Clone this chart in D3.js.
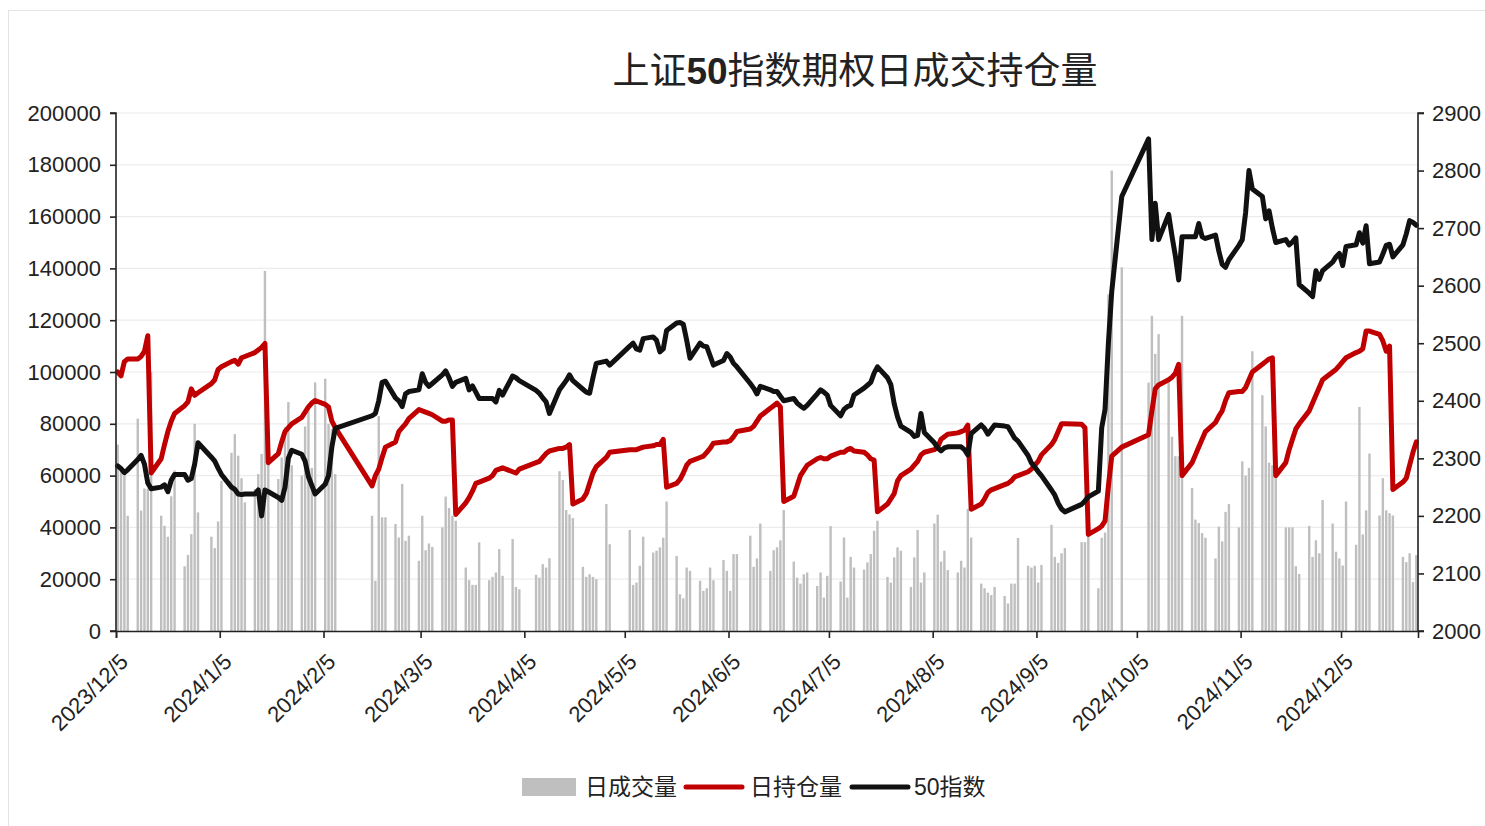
<!DOCTYPE html>
<html>
<head>
<meta charset="utf-8">
<script src="https://cdn.jsdelivr.net/npm/d3@7"></script>
<style>
  body { margin: 0; background: #fff; }
  text { font-family: "Liberation Sans", "Noto Sans CJK SC", sans-serif; }
  .cjk { font-family: "Noto Sans CJK SC", sans-serif; }
</style>
</head>
<body>
<div id="chart"></div>
<script>
// trading days per month (categories)
const tradeDays = [
  ["2023-12", [5,6,7,8,11,12,13,14,15,18,19,20,21,22,25,26,27,28,29]],
  ["2024-01", [2,3,4,5,8,9,10,11,12,15,16,17,18,19,22,23,24,25,26,29,30,31]],
  ["2024-02", [1,2,5,6,7,8,19,20,21,22,23,26,27,28,29]],
  ["2024-03", [1,4,5,6,7,8,11,12,13,14,15,18,19,20,21,22,25,26,27,28,29]],
  ["2024-04", [1,2,3,8,9,10,11,12,15,16,17,18,19,22,23,24,25,26,29,30]],
  ["2024-05", [6,7,8,9,10,13,14,15,16,17,20,21,22,23,24,27,28,29,30,31]],
  ["2024-06", [3,4,5,6,7,11,12,13,14,17,18,19,20,21,24,25,26,27,28]],
  ["2024-07", [1,2,3,4,5,8,9,10,11,12,15,16,17,18,19,22,23,24,25,26,29,30,31]],
  ["2024-08", [1,2,5,6,7,8,9,12,13,14,15,16,19,20,21,22,23,26,27,28,29,30]],
  ["2024-09", [2,3,4,5,6,9,10,11,12,13,18,19,20,23,24,25,26,27,30]],
  ["2024-10", [8,9,10,11,14,15,16,17,18,21,22,23,24,25,28,29,30,31]],
  ["2024-11", [1,4,5,6,7,8,11,12,13,14,15,18,19,20,21,22,25,26,27,28,29]],
  ["2024-12", [2,3,4,5,6,9,10,11,12,13,16,17,18,19,20,23,24,25,26,27]]
];

// 日成交量
const volume = [
  72000,62000,60000,44500, 82000,46500,55000,55000,100000, 44500,40600,36400,52000,62000, 25000,29400,37400,80000,45800,
  36400,32000,42300,58000, 68800,76000,67700,59000,49700, 54800,60600,68400,139000,67700, 58700,67000,78700,88400,64000, 60000,79000,85000,
  63000,96000, 97400,80000,78000,60600, 44500,19400,83000,43900,43900, 41300,36100,56800,34800,
  36800, 27100,44500,31200,33800,32500, 40000,51900,47500,44500,42600, 24500,19600,17800,17800,34200, 19600,20900,22600,31600,21300,
  35500,17000,16100, 21700,20600,25800,24500,28100, 61700,58300,46700,45000,43600, 24800,20900,21900,20900,20000, 49000,33500,
  39000,17800,18700,25200,36400, 30300,31000,32300,36000,50000, 29000,14200,12600,24500,23200, 19400,15500,16500,24500,19600,
  27400,23200,15500,29700,29700, 36800,24800,28000,41500, 23200,31200,32300,35000,46700, 26800,20600,18300,21900,22600,
  17400,22600,12900,21300,40500, 19100,36100,12900,28600,24500, 23700,26500,29700,38700,42600, 20900,18700,28400,32300,31000, 17000,28400,39000,
  18700,22600, 41500,44900,26800,31000,23500, 22600,27100,24500,47100,36100, 18300,16500,14800,13900,17000, 13500,10600,18300,18300,35900,
  25200,24500,25200,18700,25500, 41000,28600,26300,30000,32000, 34300,34300,38000, 16500,36000,38000,130000,177800, 140400,
  95900,121700,107000,114600, 95900,75000,67500,67500,121700, 55200,43000,41700,37800,36000, 28000,40300,34600,46000,
  49000, 40000,65500,60000,63000,108000, 91000,79000,65000,64000,65000, 40000,40000,40000,25000,22000, 40600,28600,35000,30000,50600,
  41500,30600,28000,25300,50000, 33300,86500,37300,46600,68500, 44600,59000,46600,45500,44600, 28600,26600,30000,18900,29300
];

// 日持仓量
const openInt = [
  100000,98500,104000,105000, 105000,106000,108000,114000,61000, 66500,72000,77000,81000,84000, 87000,88500,93500,91000,92000,
  95500,97000,101000,102000, 104000,104500,103000,105500,106000, 107500,108500,109500,111000,65000, 68500,73000,77000,78500,80000, 82500,84500,86500,
  88000,89000, 87500,86500,81000,78500, 56000,60000,62500,67000,71000, 73000,77000,78500,80000,
  82000, 85500,85000,84500,84000,83500, 81000,81000,81500,81500,45000, 49500,51500,54000,57000,57500, 59000,60000,62000,62500,63000,
  61500,61000,62500, 65000,65500,67000,68500,69500, 70500,70500,71000,72000,49000, 51000,53000,57000,61000,63500, 67000,69000,
  70000,70000,70000,70500,71000, 71500,72000,72000,74000,55500, 57000,58500,61000,64000,65500, 67000,67500,69000,70500,72500,
  73000,73000,73500,75000,77000, 78000,79000,81000,83000, 86000,87000,88000,86500,50000, 52000,56000,60000,62000,64000,
  66500,67000,66500,66500,67500, 69000,69000,70000,70500,69500, 69000,68000,66500,66000,46000, 49000,51000,53000,58000,60000, 62500,64000,65500,
  68000,69000, 70000,71000,74000,75000,76000, 76500,77000,77500,79500,47000, 49000,51000,53500,54500,55000, 56500,57000,58000,59500,60000,
  61500,62500,64000,65500,68000, 72000,74000,77000,80000,80000, 79800,78500,37300, 39500,40500,42500,56000,67500, 71000,
  75800,85000,93500,95000, 97000,98000,99500,103000,60000, 65000,68000,71000,74000,77000, 80500,83000,85000,89000,
  92000, 92500,92500,94000,97000,100000, 103000,104000,105000,105500,60000, 65000,70000,74000,78000,80000, 85000,88000,91000,94000,97000,
  100000,101000,102500,104000,105500, 107500,108000,109000,115800,115800, 114500,112000,108000,110000,54600, 57500,59000,64000,69000,73000
];

// 50指数
const index50 = [
  2287,2282,2275,2280, 2298,2305,2290,2257,2247, 2250,2254,2242,2262,2272, 2272,2262,2265,2290,2327,
  2302,2295,2283,2272, 2250,2246,2238,2237,2238, 2238,2245,2200,2245,2242, 2232,2227,2250,2300,2314, 2307,2295,2268,
  2253,2238, 2255,2270,2320,2352, 2374,2378,2400,2432,2434, 2405,2400,2390,2412,
  2416, 2419,2447,2432,2425,2430, 2445,2452,2440,2425,2432, 2439,2419,2426,2415,2404, 2404,2404,2398,2418,2410,
  2443,2440,2435, 2418,2413,2405,2398,2378, 2419,2427,2435,2445,2435, 2420,2415,2413,2440,2465, 2469,2462,
  2495,2500,2490,2488,2508, 2511,2505,2485,2490,2522, 2535,2536,2533,2505,2474, 2500,2495,2494,2478,2462,
  2470,2482,2476,2465,2459, 2430,2422,2412,2425, 2419,2416,2416,2408,2400, 2404,2396,2391,2387,2392,
  2412,2419,2415,2410,2392, 2374,2385,2390,2392,2410, 2422,2427,2432,2448,2459, 2440,2428,2395,2372,2356, 2345,2338,2340,
  2378,2345, 2327,2318,2313,2318,2320, 2320,2320,2315,2306,2343, 2358,2352,2342,2350,2358, 2356,2355,2345,2335,2330,
  2305,2292,2285,2277,2270, 2245,2236,2222,2212,2207, 2220,2226,2233, 2243,2353,2385,2500,2590, 2755,
  2855,2680,2743,2680, 2724,2686,2652,2610,2685, 2685,2685,2708,2685,2682, 2688,2660,2637,2632,
  2645, 2670,2680,2727,2800,2768, 2755,2716,2730,2700,2675, 2680,2671,2676,2683,2602, 2587,2581,2626,2611,2626,
  2641,2650,2656,2635,2668, 2671,2692,2674,2704,2638, 2641,2655,2670,2672,2650, 2671,2690,2713,2710,2705
];

const xTickLabels = ["2023/12/5","2024/1/5","2024/2/5","2024/3/5","2024/4/5","2024/5/5","2024/6/5",
  "2024/7/5","2024/8/5","2024/9/5","2024/10/5","2024/11/5","2024/12/5"];
const leftTicks = [0,20000,40000,60000,80000,100000,120000,140000,160000,180000,200000];
const rightTicks = [2000,2100,2200,2300,2400,2500,2600,2700,2800,2900];

function init(){
  var w = 1485, h = 826;
  var left = 116, right = 1418, top = 113, bottom = 631;

  var svg = d3.select("#chart").append("svg")
      .attr("width", w).attr("height", h);

  svg.append("rect")
      .attr("x", 8.5).attr("y", 10.5).attr("width", 1480).attr("height", 820)
      .attr("fill", "#fff").attr("stroke", "#e4e4e4");

  // build rows from the arrays
  let dates = [];
  tradeDays.forEach(m => {
    let ym = m[0].split("-");
    m[1].forEach(d => dates.push(new Date(Date.UTC(+ym[0], +ym[1]-1, d, 12))));
  });
  let n = Math.min(dates.length, volume.length, openInt.length, index50.length);
  let rows = [];
  for (let i = 0; i < n; i++) rows.push({date: dates[i], vol: volume[i], oi: openInt[i], idx: index50[i]});

  var x = d3.scaleUtc()
      .domain([Date.UTC(2023,11,5), Date.UTC(2024,11,28)])
      .range([left, right]);
  var yL = d3.scaleLinear().domain([0, 200000]).range([bottom, top]);
  var yR = d3.scaleLinear().domain([2000, 2900]).range([bottom, top]);

  // gridlines
  svg.append("g").selectAll("line")
      .data(leftTicks.slice(1))
      .enter().append("line")
      .attr("x1", left).attr("x2", right)
      .attr("y1", d => yL(d)).attr("y2", d => yL(d))
      .attr("stroke", "#ececec").attr("stroke-width", 1.2);

  // bars
  svg.append("g").selectAll("rect")
      .data(rows)
      .enter().append("rect")
      .attr("x", d => x(d.date) - 1.2)
      .attr("y", d => yL(d.vol))
      .attr("width", 2.4)
      .attr("height", d => bottom - yL(d.vol))
      .attr("fill", "#bfbfbf");

  // lines
  var lineOI = d3.line().x(d => x(d.date)).y(d => yL(d.oi));
  var lineIdx = d3.line().x(d => x(d.date)).y(d => yR(d.idx));
  svg.append("path").datum(rows)
      .attr("d", lineOI).attr("fill", "none")
      .attr("stroke", "#c00000").attr("stroke-width", 5)
      .attr("stroke-linejoin", "round").attr("stroke-linecap", "round");
  svg.append("path").datum(rows)
      .attr("d", lineIdx).attr("fill", "none")
      .attr("stroke", "#111").attr("stroke-width", 5)
      .attr("stroke-linejoin", "round").attr("stroke-linecap", "round");

  // axes
  var axL = svg.append("g").attr("transform", "translate(" + left + ",0)")
      .call(d3.axisLeft(yL).tickValues(leftTicks).tickSize(6).tickPadding(9).tickFormat(d3.format("d")));
  var axR = svg.append("g").attr("transform", "translate(" + right + ",0)")
      .call(d3.axisRight(yR).tickValues(rightTicks).tickSize(6).tickPadding(8).tickFormat(d3.format("d")));
  let tickDates = xTickLabels.map(s => { let p = s.split("/"); return new Date(Date.UTC(+p[0], +p[1]-1, +p[2])); });
  var axB = svg.append("g").attr("transform", "translate(0," + bottom + ")")
      .call(d3.axisBottom(x).tickValues(tickDates).tickSize(7)
        .tickFormat((d, i) => xTickLabels[i]));
  axB.selectAll("text")
      .attr("x", 0).attr("y", 0).attr("dy", 0)
      .attr("text-anchor", "end")
      .attr("transform", "translate(13,32) rotate(-45)");

  [axL, axR, axB].forEach(a => {
    a.select(".domain").attr("stroke", "#222").attr("stroke-width", 1.6);
    a.selectAll(".tick line").attr("stroke", "#222").attr("stroke-width", 1.6);
    a.selectAll("text").attr("font-size", "22px").attr("fill", "#222")
      .attr("font-family", "Liberation Sans, sans-serif");
  });
  axL.select(".domain").attr("d", "M-6," + bottom + "H0V" + top + "H-6");
  axR.select(".domain").attr("d", "M6," + bottom + "H0V" + top + "H6");

  // title
  var title = svg.append("text").attr("class", "cjk")
      .attr("x", 855).attr("y", 84).attr("text-anchor", "middle")
      .attr("font-size", "37px").attr("fill", "#222");
  title.append("tspan").text("上证");
  title.append("tspan").attr("font-weight", "bold").attr("font-family", "Liberation Sans, sans-serif").text("50");
  title.append("tspan").text("指数期权日成交持仓量");

  // legend
  var lg = svg.append("g").attr("class", "cjk");
  lg.append("rect").attr("x", 522).attr("y", 778).attr("width", 54).attr("height", 18).attr("fill", "#bfbfbf");
  lg.append("text").attr("x", 585).attr("y", 795).attr("font-size", "23px").attr("fill", "#222").text("日成交量");
  lg.append("line").attr("x1", 686).attr("x2", 742).attr("y1", 787).attr("y2", 787)
      .attr("stroke", "#c00000").attr("stroke-width", 5).attr("stroke-linecap", "round");
  lg.append("text").attr("x", 750).attr("y", 795).attr("font-size", "23px").attr("fill", "#222").text("日持仓量");
  lg.append("line").attr("x1", 852).attr("x2", 908).attr("y1", 787).attr("y2", 787)
      .attr("stroke", "#111").attr("stroke-width", 5).attr("stroke-linecap", "round");
  lg.append("text").attr("x", 914).attr("y", 795).attr("font-size", "23px").attr("fill", "#222").text("50指数");
}
window.onload = init;
</script>
</body>
</html>
